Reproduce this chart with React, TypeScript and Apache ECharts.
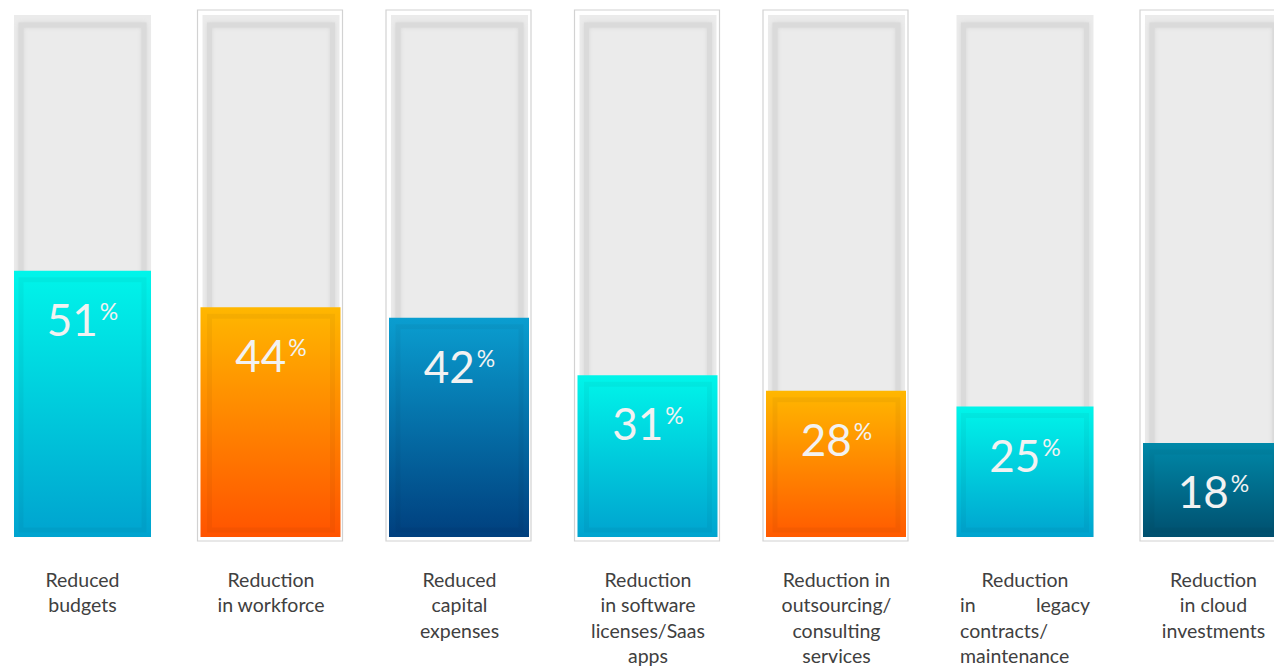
import React, { useEffect, useRef } from "react";
import * as echarts from "echarts";

const categories = [
  "Reduced\nbudgets",
  "Reduction\nin workforce",
  "Reduced\ncapital\nexpenses",
  "Reduction\nin software\nlicenses/Saas\napps",
  "Reduction in\noutsourcing/\nconsulting\nservices",
  "Reduction\nin legacy\ncontracts/\nmaintenance",
  "Reduction\nin cloud\ninvestments",
];
const values = [51, 44, 42, 31, 28, 25, 18];
const trackMax = 100;
const framed = [false, true, true, true, true, false, true];
const justified = [false, false, false, false, false, true, false];
const topColors = ["#00f5ea", "#ffb700", "#0a9ed0", "#00f5ea", "#ffb700", "#00f5ea", "#0088a8"];
const bottomColors = ["#00a3cf", "#ff5300", "#003f7e", "#00a3cf", "#ff5a00", "#00a3cf", "#004f6e"];

const BAR_HALF = 68.5;

function labelFormatter(value: string, index: number): string {
  const lines = value.split("\n");
  if (!justified[index]) return value;
  return lines
    .map((line, k) => {
      if (k === 0) return line;
      const words = line.split(" ");
      if (words.length === 2) return `{jl|${words[0]}}{jr|${words[1]}}`;
      return `{jf|${line}}`;
    })
    .join("\n");
}

const LBL = { fontFamily: "Lato", fontSize: 19.5, color: "#404040", lineHeight: 25.2 };

export default function App() {
  const ref = useRef<HTMLDivElement>(null);
  useEffect(() => {
    if (!ref.current) return;
    const chart = echarts.init(ref.current, undefined, { renderer: "svg" });
    const trackData = categories.map((_, i) => [i, trackMax]);
    const fillData = values.map((v, i) => [i, v]);

    chart.setOption({
      animation: false,
      grid: { left: -11.75, width: 1319.5, top: 15, height: 522, outerBoundsMode: "none", containLabel: false },
      xAxis: {
        type: "category",
        data: categories,
        axisLine: { show: false },
        axisTick: { show: false },
        axisLabel: {
          interval: 0,
          margin: 30,
          ...LBL,
          formatter: labelFormatter,
          rich: {
            jl: { ...LBL, width: 65, align: "left" },
            jr: { ...LBL, width: 65, align: "right" },
            jf: { ...LBL, width: 130, align: "left" },
          },
        },
      },
      yAxis: { type: "value", min: 0, max: trackMax, show: false },
      series: [
        {
          type: "custom",
          name: "track",
          data: trackData,
          z: 1,
          renderItem: (params: any, api: any) => {
            const i = api.value(0);
            const [cx, y0] = api.coord([i, 0]);
            const y1 = api.coord([i, api.value(1)])[1];
            const children: any[] = [];
            if (framed[i]) {
              children.push({
                type: "rect",
                shape: { x: cx - BAR_HALF - 5, y: y1 - 5, width: 2 * BAR_HALF + 8, height: y0 - y1 + 9 },
                style: { fill: "#ffffff", stroke: "#d2d2d2", lineWidth: 1.2 },
              });
            }
            children.push({
              type: "rect",
              shape: { x: cx - BAR_HALF, y: y1, width: 2 * BAR_HALF, height: y0 - y1 },
              style: { fill: "#ebebeb" },
            });
            children.push({
              type: "rect",
              shape: { x: cx - BAR_HALF + 7, y: y1 + 10, width: 2 * BAR_HALF - 14, height: y0 - y1 - 17 },
              style: { fill: "none", stroke: "#dadada", lineWidth: 5, shadowBlur: 4, shadowColor: "#d8d8d8" },
            });
            return { type: "group", children };
          },
        },
        {
          type: "custom",
          name: "value",
          data: fillData,
          z: 2,
          renderItem: (params: any, api: any) => {
            const i = api.value(0);
            const v = api.value(1);
            const [cx, y0] = api.coord([i, 0]);
            const y1 = api.coord([i, v])[1];
            const h = y0 - y1;
            const grad = new echarts.graphic.LinearGradient(0, 0, 0, 1, [
              { offset: 0, color: topColors[i] },
              { offset: 1, color: bottomColors[i] },
            ]);
            return {
              type: "group",
              children: [
                {
                  type: "rect",
                  shape: { x: cx - BAR_HALF - (framed[i] ? 2 : 0), y: y1, width: 2 * BAR_HALF + (framed[i] ? 3 : 0), height: h },
                  style: { fill: grad },
                },
                {
                  type: "rect",
                  shape: { x: cx - BAR_HALF + 7, y: y1 + 9, width: 2 * BAR_HALF - 14, height: h - 16 },
                  style: { fill: "none", stroke: "rgba(0,0,0,0.04)", lineWidth: 5, shadowBlur: 4, shadowColor: "rgba(0,0,0,0.05)" },
                },
                {
                  type: "text",
                  x: cx,
                  y: y1 + 48,
                  style: {
                    text: `{n|${v}}{p|%}`,
                    align: "center",
                    verticalAlign: "middle",
                    rich: {
                      n: { fontFamily: "Lato", fontSize: 44, fill: "#f2f2f2", lineHeight: 50 },
                      p: { fontFamily: "Lato", fontSize: 23, fill: "#f2f2f2", lineHeight: 50, padding: [0, 0, 16, 2] },
                    },
                  },
                },
              ],
            };
          },
        },
      ],
    });
    return () => chart.dispose();
  }, []);
  return (
    <div
      ref={ref}
      style={{ position: "fixed", left: 0, top: 0, width: 1274, height: 667, background: "#ffffff" }}
    />
  );
}
